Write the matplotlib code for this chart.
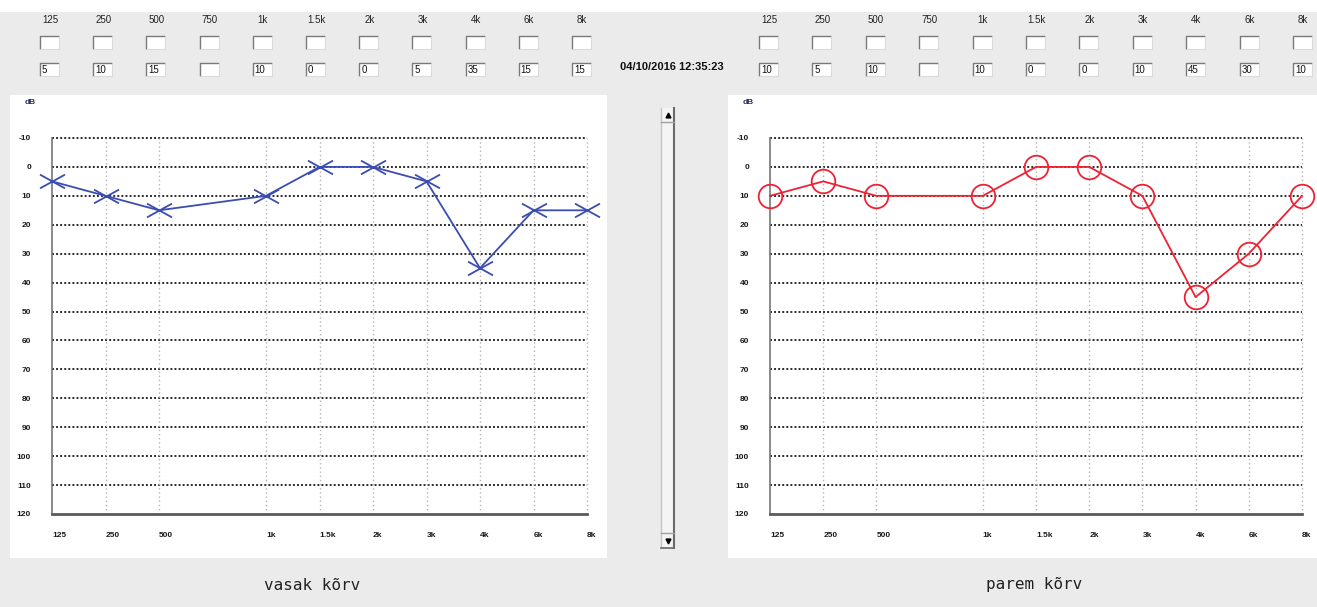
import matplotlib
matplotlib.use("Agg")
import matplotlib.pyplot as plt
from matplotlib.patches import Rectangle
from matplotlib.path import Path

# ---- data -------------------------------------------------------------
header_freqs = ["125", "250", "500", "750", "1k", "1.5k", "2k", "3k", "4k", "6k", "8k"]
plot_freqs = ["125", "250", "500", "1k", "1.5k", "2k", "3k", "4k", "6k", "8k"]
left_values = [5, 10, 15, 10, 0, 0, 5, 35, 15, 15]      # vasak (left ear), dB
right_values = [10, 5, 10, 10, 0, 0, 10, 45, 30, 10]    # parem (right ear), dB
db_ticks = [-10, 0, 10, 20, 30, 40, 50, 60, 70, 80, 90, 100, 110, 120]
timestamp = "04/10/2016 12:35:23"
left_title = "vasak kõrv"
right_title = "parem kõrv"

# ---- styling ----------------------------------------------------------
W, H = 1317, 607
GRAY_BG = "#ebebeb"
BLUE = "#3b4db0"
RED = "#ee2233"
FONT = "Liberation Sans"

fig = plt.figure(figsize=(W / 100, H / 100), dpi=100)
fig.patch.set_facecolor(GRAY_BG)

# pixel-space canvas for the window chrome
bg = fig.add_axes([0, 0, 1, 1], zorder=0)
bg.set_xlim(0, W)
bg.set_ylim(H, 0)
bg.axis("off")

bg.add_patch(Rectangle((0, 0), W, 12, facecolor="white", edgecolor="none"))
bg.add_patch(Rectangle((10, 95), 597, 463, facecolor="white", edgecolor="none"))
bg.add_patch(Rectangle((728, 95), 589, 463, facecolor="white", edgecolor="none"))


def value_lookup(values):
    table = dict(zip(plot_freqs, values))
    return [str(table[f]) if f in table else "" for f in header_freqs]


def edit_box(x, y, w=19, h=13):
    bg.add_patch(Rectangle((x, y), w, h, facecolor="white", edgecolor="none"))
    bg.plot([x, x, x + w], [y + h, y, y], color="#7a7a7a", lw=1.0, solid_capstyle="butt")
    bg.plot([x, x + w, x + w], [y + h, y + h, y], color="#dadada", lw=0.8, solid_capstyle="butt")


def header(x0, step, values):
    texts = value_lookup(values)
    for i, (f, t) in enumerate(zip(header_freqs, texts)):
        cx = x0 + i * step
        bg.text(cx, 20, f, ha="center", va="center", fontsize=7, family=FONT, color="#222222")
        edit_box(cx - 10, 36)
        edit_box(cx - 10, 63)
        if t:
            bg.text(cx - 8, 70, t, ha="left", va="center", fontsize=7, family=FONT, color="#111111")


header(50, 53.2, left_values)
header(769, 53.4, right_values)

bg.text(672, 67, timestamp, ha="center", va="center", fontsize=8, family=FONT,
        fontweight="bold", color="#111111")

bg.text(30, 102, "dB", ha="center", va="center", fontsize=6, family=FONT,
        fontweight="bold", color="#2a2f55")
bg.text(748, 102, "dB", ha="center", va="center", fontsize=6, family=FONT,
        fontweight="bold", color="#2a2f55")

# vertical scrollbar between the two panels
bg.add_patch(Rectangle((661, 108), 13, 440, facecolor="#f4f4f4", edgecolor="none"))
bg.plot([674, 674], [108, 548], color="#6a6a6a", lw=1.5)
bg.plot([661, 661], [108, 548], color="#c4c4c4", lw=1.0)
bg.plot([661, 674], [122, 122], color="#a0a0a0", lw=1.0)
bg.plot([661, 674], [533, 533], color="#a0a0a0", lw=1.0)
bg.plot([661, 674], [548, 548], color="#6a6a6a", lw=1.2)
bg.plot([667.5], [115], marker="^", ms=3.5, color="black")
bg.plot([667.5], [541], marker="v", ms=3.5, color="black")

bg.text(312, 585, left_title, ha="center", va="center", fontsize=11.5,
        family="DejaVu Sans Mono", color="#222222")
bg.text(1034, 585, right_title, ha="center", va="center", fontsize=11.5,
        family="DejaVu Sans Mono", color="#222222")


def px_axes(x0, y0, x1, y1):
    return fig.add_axes([x0 / W, 1 - y1 / H, (x1 - x0) / W, (y1 - y0) / H], zorder=2)


x_marker = Path([(-1, -0.55), (1, 0.55), (-1, 0.55), (1, -0.55)],
                [Path.MOVETO, Path.LINETO, Path.MOVETO, Path.LINETO])


def audiogram(ax, values, color, marker, ms):
    ax.set_facecolor("none")
    ax.set_xlim(0, len(header_freqs) - 1)
    ax.set_ylim(120, -10)
    positions = [header_freqs.index(f) for f in plot_freqs]

    for v in db_ticks[:-1]:
        ax.axhline(v, color="#2b2b2b", lw=1.4, ls=(0, (1, 1.1)), clip_on=False, zorder=1)
    for p in positions[1:]:
        ax.axvline(p, color="#b4b4b4", lw=1.0, ls=(0, (1, 2)), clip_on=False, zorder=1)

    for side in ("top", "right"):
        ax.spines[side].set_visible(False)
    ax.spines["left"].set_color("#777777")
    ax.spines["left"].set_linewidth(1.2)
    ax.spines["bottom"].set_color("#5a5a5a")
    ax.spines["bottom"].set_linewidth(2.0)

    ax.set_yticks(db_ticks)
    ax.set_yticklabels([str(t) for t in db_ticks])
    ax.set_xticks(positions)
    ax.set_xticklabels(plot_freqs)
    ax.tick_params(axis="y", length=0, pad=15, labelsize=6)
    ax.tick_params(axis="x", length=0, pad=13, labelsize=6)
    for lbl in ax.get_yticklabels() + ax.get_xticklabels():
        lbl.set_fontweight("bold")
        lbl.set_family(FONT)
        lbl.set_color("#1a1a1a")
    for lbl in ax.get_xticklabels():
        lbl.set_ha("left")

    if marker == "o":
        ax.plot(positions, values, color=color, lw=1.3, marker="o", ms=ms,
                mfc="none", mec=color, mew=1.3, clip_on=False, zorder=3)
    else:
        ax.plot(positions, values, color=color, lw=1.3, marker=marker, ms=ms,
                mec=color, mew=1.3, clip_on=False, zorder=3)


ax_left = px_axes(52, 138, 587, 514)
audiogram(ax_left, left_values, BLUE, x_marker, 18)

ax_right = px_axes(770, 138, 1302, 514)
audiogram(ax_right, right_values, RED, "o", 17)

fig.savefig("out.png", dpi=100, facecolor=fig.get_facecolor())
